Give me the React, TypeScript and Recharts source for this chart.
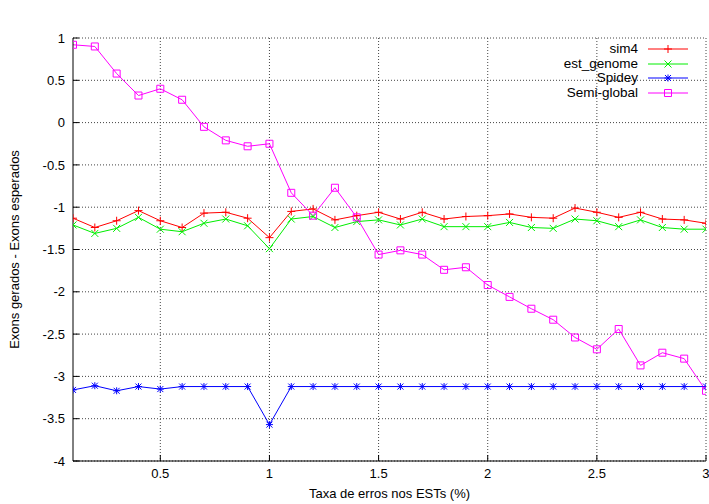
import React from "react";
import {
  LineChart,
  Line,
  XAxis,
  YAxis,
  CartesianGrid,
  Legend,
  Label,
} from "recharts";

const taxa = [
  0.1, 0.2, 0.3, 0.4, 0.5, 0.6, 0.7, 0.8, 0.9, 1.0,
  1.1, 1.2, 1.3, 1.4, 1.5, 1.6, 1.7, 1.8, 1.9, 2.0,
  2.1, 2.2, 2.3, 2.4, 2.5, 2.6, 2.7, 2.8, 2.9, 3.0,
];

const sim4 = [
  -1.13, -1.24, -1.16, -1.04, -1.16, -1.24, -1.07, -1.06, -1.13, -1.36,
  -1.05, -1.02, -1.15, -1.1, -1.06, -1.14, -1.06, -1.14, -1.11, -1.1,
  -1.08, -1.12, -1.13, -1.01, -1.06, -1.12, -1.06, -1.14, -1.15, -1.19,
];

const estGenome = [
  -1.21, -1.31, -1.25, -1.12, -1.26, -1.29, -1.19, -1.14, -1.22, -1.49,
  -1.14, -1.11, -1.24, -1.17, -1.15, -1.21, -1.14, -1.23, -1.23, -1.23,
  -1.18, -1.24, -1.25, -1.14, -1.16, -1.23, -1.15, -1.24, -1.26, -1.26,
];

const spidey = [
  -3.16, -3.11, -3.17, -3.12, -3.15, -3.12, -3.12, -3.12, -3.12, -3.57,
  -3.12, -3.12, -3.12, -3.12, -3.12, -3.12, -3.12, -3.12, -3.12, -3.12,
  -3.12, -3.12, -3.12, -3.12, -3.12, -3.12, -3.12, -3.12, -3.12, -3.12,
];

const semiGlobal = [
  0.92, 0.9, 0.58, 0.32, 0.4, 0.27, -0.05, -0.21, -0.28, -0.25,
  -0.83, -1.1, -0.77, -1.12, -1.56, -1.51, -1.56, -1.74, -1.71, -1.92,
  -2.06, -2.2, -2.33, -2.54, -2.68, -2.44, -2.87, -2.72, -2.79, -3.17,
];

const xTicks = [0.5, 1, 1.5, 2, 2.5, 3];
const yTicks = [-4, -3.5, -3, -2.5, -2, -1.5, -1, -0.5, 0, 0.5, 1];

const data = taxa.map((t, i) => ({
  taxa: t,
  sim4: sim4[i],
  est_genome: estGenome[i],
  Spidey: spidey[i],
  "Semi-global": semiGlobal[i],
}));

const FONT = "'Liberation Sans', Arial, Helvetica, sans-serif";

type Shape = "plus" | "cross" | "star" | "square";

function marker(shape: Shape, cx: number, cy: number, color: string, key?: any) {
  const r = 3.5;
  let d = "";
  if (shape === "plus") d = `M${cx - 4},${cy}h8M${cx},${cy - 4}v8`;
  if (shape === "cross") d = `M${cx - r},${cy - r}l${2 * r},${2 * r}M${cx - r},${cy + r}l${2 * r},${-2 * r}`;
  if (shape === "star")
    d = `M${cx - r},${cy}h${2 * r}M${cx},${cy - r}v${2 * r}M${cx - 3},${cy - 3}l6,6M${cx - 3},${cy + 3}l6,-6`;
  if (shape === "square") d = `M${cx - r},${cy - r}h${2 * r}v${2 * r}h${-2 * r}z`;
  return <path key={key} d={d} stroke={color} strokeWidth={1} fill="none" />;
}

const series: { key: string; color: string; shape: Shape }[] = [
  { key: "sim4", color: "#ff0000", shape: "plus" },
  { key: "est_genome", color: "#00ee00", shape: "cross" },
  { key: "Spidey", color: "#0000ff", shape: "star" },
  { key: "Semi-global", color: "#ff00ff", shape: "square" },
];

const makeDot = (shape: Shape, color: string) => (props: any) => {
  const { cx, cy, index } = props;
  if (cx == null || cy == null) return <g key={index} />;
  return marker(shape, cx, cy, color, index);
};

const LegendBox = () => (
  <div style={{ fontFamily: FONT, fontSize: 13.5, color: "#000" }}>
    {series.map((s) => (
      <div key={s.key} style={{ display: "flex", alignItems: "center", height: 14.5 }}>
        <span style={{ width: 120, textAlign: "right", lineHeight: "14px" }}>{s.key}</span>
        <svg width={50} height={14}>
          <line x1={10} y1={7} x2={50} y2={7} stroke={s.color} strokeWidth={1} />
          {marker(s.shape, 30, 7, s.color)}
        </svg>
      </div>
    ))}
  </div>
);

const noTick = () => <g />;

export default function App() {
  return (
    <div style={{ position: "absolute", left: 0, top: 0, background: "#fff" }}>
      <LineChart
        width={709}
        height={504}
        data={data}
        margin={{ top: 38, right: 3, bottom: 13, left: 0 }}
        style={{ fontFamily: FONT }}
      >
        <CartesianGrid
          stroke="#444"
          strokeDasharray="1 2"
          horizontalValues={yTicks}
          verticalValues={xTicks}
        />
        <XAxis
          dataKey="taxa"
          type="number"
          domain={[0.1, 3]}
          ticks={xTicks}
          tickFormatter={(v: number) => String(v)}
          height={30}
          stroke="#000"
          tickSize={-6}
          tickMargin={14}
          tick={{ fill: "#000", fontSize: 13 }}
          allowDataOverflow
        >
          <Label
            content={({ viewBox }: any) => (
              <text
                x={viewBox.x + viewBox.width / 2}
                y={viewBox.y + 37}
                textAnchor="middle"
                fontSize={13}
                fill="#000"
              >
                Taxa de erros nos ESTs (%)
              </text>
            )}
          />
        </XAxis>
        <XAxis
          xAxisId="top"
          orientation="top"
          type="number"
          domain={[0.1, 3]}
          ticks={xTicks}
          height={0}
          stroke="#000"
          tickSize={-6}
          tick={noTick}
          allowDataOverflow
        >
          <Label
            content={({ viewBox }: any) => (
              <text
                x={viewBox.x + viewBox.width / 2}
                y={viewBox.y + viewBox.height - 16}
                textAnchor="middle"
                fontSize={13}
                fill="#000"
              >
                Delta Exons
              </text>
            )}
          />
        </XAxis>
        <YAxis
          type="number"
          domain={[-4, 1]}
          ticks={yTicks}
          width={73}
          stroke="#000"
          tickSize={-6}
          tickMargin={14}
          tick={{ fill: "#000", fontSize: 13 }}
          allowDataOverflow
        >
          <Label
            content={({ viewBox }: any) => {
              const cx = viewBox.x + 19;
              const cy = viewBox.y + viewBox.height / 2;
              return (
                <text
                  x={cx}
                  y={cy}
                  transform={`rotate(-90 ${cx} ${cy})`}
                  textAnchor="middle"
                  fontSize={13}
                  fill="#000"
                >
                  Exons gerados - Exons esperados
                </text>
              );
            }}
          />
        </YAxis>
        <YAxis
          yAxisId="right"
          orientation="right"
          type="number"
          domain={[-4, 1]}
          ticks={yTicks}
          width={0}
          stroke="#000"
          tickSize={-6}
          tick={noTick}
          allowDataOverflow
        />
        <Legend
          layout="vertical"
          align="center"
          verticalAlign="middle"
          content={<LegendBox />}
          wrapperStyle={{ position: "absolute", top: 42, left: 518, right: "auto", bottom: "auto", width: 170 }}
        />
        {series.map((s) => (
          <Line
            key={s.key}
            dataKey={s.key}
            name={s.key}
            type="linear"
            stroke={s.color}
            strokeWidth={1}
            dot={makeDot(s.shape, s.color)}
            activeDot={false}
            isAnimationActive={false}
          />
        ))}
      </LineChart>
    </div>
  );
}
